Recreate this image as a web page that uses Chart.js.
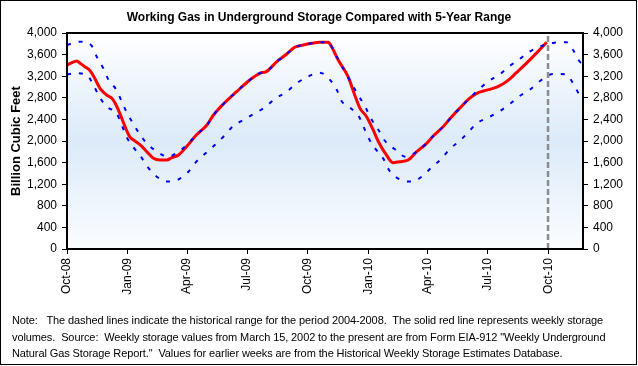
<!DOCTYPE html>
<html>
<head>
<meta charset="utf-8">
<script src="https://cdn.jsdelivr.net/npm/chart.js@4.4.1/dist/chart.umd.min.js"></script>
<style>
  html, body { margin: 0; padding: 0; background: #fff; }
  #wrap { position: relative; width: 638px; height: 366px; }
  #note {
    position: absolute; left: 12px; top: 312px;
    font: 11px "Liberation Sans", Arial, sans-serif; line-height: 16.5px;
    letter-spacing: -0.1px; color: #000; white-space: pre;
  }
  #frame {
    position: absolute; left: 0; top: 0; width: 635px; height: 363px;
    border: 1px solid #000; pointer-events: none;
  }
</style>
</head>
<body>
<div id="wrap">
  <canvas id="myChart" width="638" height="366"></canvas>
  <div id="note">Note:   The dashed lines indicate the historical range for the period 2004-2008.  The solid red line represents weekly storage
volumes.  Source:  Weekly storage values from March 15, 2002 to the present are from Form EIA-912 "Weekly Underground
Natural Gas Storage Report."  Values for earlier weeks are from the Historical Weekly Storage Estimates Database.</div>
  <div id="frame"></div>
</div>
<script>
// x values are days counted from 1 Oct 2008

// weekly working gas in storage (red line)
const storageDays = [0, 15, 20, 27, 35, 42, 50, 60, 68, 73, 80, 88, 95, 103, 111, 121, 131, 141, 151, 159, 169, 181,
  196, 212, 222, 237, 257, 277, 292, 302, 318, 333, 345, 358, 371, 383, 396, 401, 411, 426, 436, 444,
  454, 464, 472, 484, 494, 504, 517, 530, 545, 555, 570, 583, 595, 610, 621, 631, 641, 653, 668, 681,
  696, 711, 727];
const storageBcf = [3407, 3481, 3438, 3376, 3302, 3161, 2976, 2852, 2790, 2698, 2513, 2265, 2080, 2000, 1926, 1802, 1679, 1648, 1648, 1691, 1741, 1894,
  2111, 2296, 2481, 2685, 2913, 3130, 3254, 3284, 3469, 3611, 3735, 3778, 3809, 3828, 3828, 3747, 3500, 3191, 2852, 2605,
  2450, 2204, 1987, 1741, 1598, 1617, 1648, 1802, 1957, 2093, 2265, 2450, 2605, 2790, 2883, 2926, 2957, 3006, 3117, 3265,
  3438, 3623, 3830];

// 5-year range, upper edge
const maxDays = [0, 20, 37, 45, 55, 63, 75, 83, 90, 100, 111, 121, 138, 153, 169, 184, 196, 212, 222, 237,
  257, 277, 292, 302, 318, 333, 345, 358, 371, 383, 396, 406, 424, 434, 453, 462, 472, 482, 497, 513,
  530, 545, 555, 570, 583, 595, 610, 623, 638, 656, 671, 686, 701, 719, 739, 757, 767, 777, 782];
const maxBcf = [3778, 3840, 3769, 3562, 3346, 3130, 2944, 2728, 2543, 2327, 2111, 1957, 1790, 1710, 1802, 1957, 2111, 2296, 2481, 2685,
  2913, 3130, 3254, 3284, 3469, 3611, 3735, 3778, 3809, 3828, 3828, 3623, 3222, 3006, 2605, 2389, 2204, 2000, 1846, 1710,
  1802, 1957, 2093, 2265, 2450, 2605, 2790, 2944, 3099, 3235, 3389, 3519, 3654, 3759, 3821, 3828, 3685, 3469, 3430];

// 5-year range, lower edge
const minDays = [0, 12, 30, 40, 49, 60, 75, 83, 90, 100, 112, 122, 136, 151, 169, 184, 196, 210, 224, 238,
  251, 267, 282, 300, 315, 333, 348, 365, 383, 398, 409, 416, 429, 443, 450, 458, 468, 480, 489, 504,
  522, 539, 552, 568, 580, 595, 608, 621, 638, 656, 671, 686, 702, 719, 737, 756, 767, 777, 782];
const minBcf = [3230, 3254, 3222, 3037, 2821, 2636, 2513, 2296, 2080, 1894, 1710, 1524, 1339, 1248, 1290, 1431, 1617, 1772, 1926, 2093,
  2265, 2389, 2494, 2624, 2778, 2913, 3068, 3191, 3265, 3142, 2944, 2741, 2617, 2438, 2246, 2031, 1846, 1660, 1444, 1290,
  1248, 1352, 1506, 1679, 1852, 2000, 2160, 2327, 2432, 2555, 2685, 2833, 2957, 3130, 3241, 3235, 3068, 2852, 2815];

// latest report week marker
const currentDay = 729;

const quarterDays = [0, 92, 182, 273, 365, 457, 547, 638, 730];
const quarterLabels = ['Oct-08', 'Jan-09', 'Apr-09', 'Jul-09', 'Oct-09', 'Jan-10', 'Apr-10', 'Jul-10', 'Oct-10'];

const FONT = '"Liberation Sans", Arial, sans-serif';
const pairs = (xs, ys) => xs.map((x, i) => ({x: x, y: ys[i]}));

// plot area: light blue gradient + black frame
const plotArea = {
  id: 'plotArea',
  beforeDatasetsDraw(chart) {
    const {ctx, chartArea: a} = chart;
    const g = ctx.createLinearGradient(0, a.top, 0, a.bottom);
    g.addColorStop(0, '#ffffff');
    g.addColorStop(0.5, '#dceaf9');
    g.addColorStop(1, '#fbfdff');
    ctx.save();
    ctx.fillStyle = g;
    ctx.fillRect(a.left, a.top, a.right - a.left, a.bottom - a.top);
    ctx.restore();
  },
  afterDraw(chart) {
    const {ctx, chartArea: a} = chart;
    ctx.save();
    ctx.strokeStyle = '#000';
    ctx.lineWidth = 2;
    ctx.strokeRect(a.left, a.top, a.right - a.left, a.bottom - a.top);
    ctx.restore();
  }
};

const yTicks = {
  color: '#000', font: {family: FONT, size: 12}, padding: 5,
  stepSize: 400, callback: v => v.toLocaleString('en-US')
};

const config = {
  type: 'line',
  data: {
    datasets: [
      {
        label: 'Current week',
        data: [{x: currentDay, y: 0}, {x: currentDay, y: 4000}],
        borderColor: '#8c8c8c', borderWidth: 2.5, borderDash: [6, 3],
        pointRadius: 0, yAxisID: 'y'
      },
      {
        label: '5-year maximum',
        data: pairs(maxDays, maxBcf),
        borderColor: '#0000ff', borderWidth: 2, borderDash: [4, 8],
        pointRadius: 0, cubicInterpolationMode: 'monotone', yAxisID: 'y'
      },
      {
        label: '5-year minimum',
        data: pairs(minDays, minBcf),
        borderColor: '#0000ff', borderWidth: 2, borderDash: [4, 8],
        pointRadius: 0, cubicInterpolationMode: 'monotone', yAxisID: 'y'
      },
      {
        label: 'Working gas',
        data: pairs(storageDays, storageBcf),
        borderColor: '#ff0000', borderWidth: 3,
        pointRadius: 0, cubicInterpolationMode: 'monotone', yAxisID: 'y'
      }
    ]
  },
  options: {
    responsive: false,
    animation: false,
    layout: {padding: 0},
    plugins: {
      legend: {display: false},
      tooltip: {enabled: false},
      title: {
        display: true,
        text: 'Working Gas in Underground Storage Compared with 5-Year Range',
        color: '#000',
        font: {family: FONT, size: 12, weight: 'bold'},
        padding: {top: 10, bottom: 8.6}
      }
    },
    scales: {
      x: {
        type: 'linear',
        min: 0, max: 782,
        afterFit: s => { s.height = 117; },
        afterBuildTicks: s => { s.ticks = quarterDays.map(v => ({value: v})); },
        ticks: {
          color: '#000', font: {family: FONT, size: 12}, padding: 4,
          minRotation: 90, maxRotation: 90, autoSkip: false,
          callback: v => quarterLabels[quarterDays.indexOf(v)]
        },
        grid: {drawOnChartArea: false, tickLength: 5, tickColor: '#000', tickWidth: 1},
        border: {color: '#000', width: 2}
      },
      y: {
        position: 'left',
        min: 0, max: 4000,
        afterFit: s => { s.width = 67; },
        ticks: yTicks,
        grid: {drawOnChartArea: false, tickLength: 5, tickColor: '#000', tickWidth: 1},
        border: {color: '#000', width: 2},
        title: {
          display: true, text: 'Billion Cubic Feet', color: '#000',
          font: {family: FONT, size: 13, weight: 'bold'}, padding: {top: 9, bottom: 0}
        }
      },
      y2: {
        position: 'right',
        min: 0, max: 4000,
        afterFit: s => { s.width = 55; },
        ticks: yTicks,
        grid: {drawOnChartArea: false, tickLength: 5, tickColor: '#000', tickWidth: 1},
        border: {color: '#000', width: 2}
      }
    }
  },
  plugins: [plotArea]
};

const myChart = new Chart(document.getElementById('myChart'), config);
</script>
</body>
</html>
